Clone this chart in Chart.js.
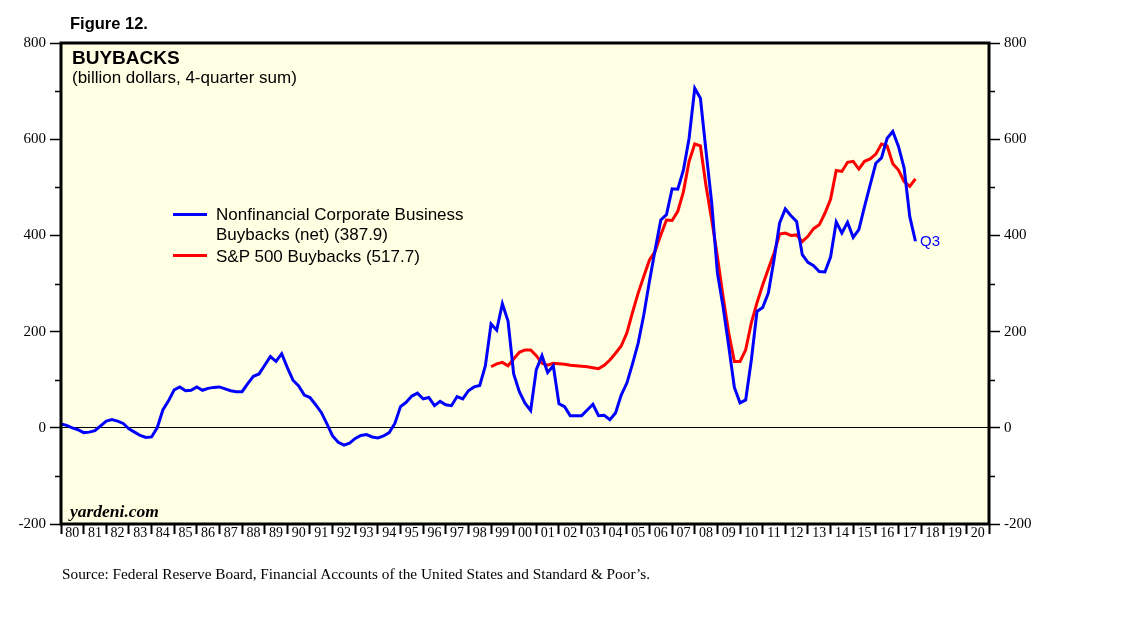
<!DOCTYPE html>
<html>
<head>
<meta charset="utf-8">
<script src="https://cdn.jsdelivr.net/npm/chart.js@4.4.1/dist/chart.umd.min.js"></script>
<style>
  html, body { margin: 0; padding: 0; background: #ffffff; }
  #wrap { position: relative; width: 1138px; height: 621px; overflow: hidden; }
  #c { position: absolute; left: 0; top: 0; }
  .t { position: absolute; white-space: nowrap; line-height: 1; color: #000; }
  .sans { font-family: "Liberation Sans", Arial, sans-serif; }
  .serif { font-family: "Liberation Serif", "Times New Roman", serif; }
  .lg { position: absolute; height: 3px; width: 34px; }
</style>
</head>
<body>
<div id="wrap">
  <canvas id="c" width="1138" height="621"></canvas>
  <div class="t sans" style="left:70px; top:15px; font-size:16.5px; font-weight:bold;">Figure 12.</div>
  <div class="t sans" style="left:72px; top:48px; font-size:19px; font-weight:bold;">BUYBACKS</div>
  <div class="t sans" style="left:72px; top:69px; font-size:17px;">(billion dollars, 4-quarter sum)</div>

  <div class="lg" style="left:173px; top:213px; background:#0000ff;"></div>
  <div class="t sans" style="left:216px; top:205px; font-size:17px; line-height:20px;">Nonfinancial Corporate Business<br>Buybacks (net) (387.9)</div>
  <div class="lg" style="left:173px; top:254px; background:#ff0000;"></div>
  <div class="t sans" style="left:216px; top:247px; font-size:17px; line-height:20px;">S&amp;P 500 Buybacks (517.7)</div>

  <div class="t sans" style="left:920px; top:233px; font-size:15px; color:#0000ff;">Q3</div>
  <div class="t serif" style="left:70px; top:503px; font-size:17.5px; font-weight:bold; font-style:italic;">yardeni.com</div>
  <div class="t serif" style="left:62px; top:566px; font-size:15.3px;">Source: Federal Reserve Board, Financial Accounts of the United States and Standard &amp; Poor’s.</div>
</div>
<script>
// Quarterly data, end-of-quarter dates starting 1979Q4 (plotted at 1980.0)
const startYear = 1980;
const nonfinBuybacks = [
  8, 5, 0, -4, -10, -9, -6, 4, 14, 17, 14, 9, -2, -9, -16, -20,
  -19, 0, 37, 56, 79, 85, 77, 78, 85, 78, 82, 84, 85, 81, 77, 75,
  75, 92, 107, 112, 130, 148, 138, 154, 125, 99, 87, 68, 63, 48, 32, 8,
  -17, -30, -36, -32, -22, -16, -14, -19, -21, -17, -10, 9, 44, 53, 66, 72,
  60, 63, 46, 55, 48, 46, 65, 60, 77, 85, 88, 129, 216, 203, 258, 222,
  112, 75, 51, 36, 121, 150, 115, 129, 50, 44, 25, 25, 25, 37, 49, 25,
  26, 17, 31, 68, 93, 133, 176, 235, 305, 370, 432, 443, 497, 496, 536, 602,
  706, 685, 574, 467, 322, 252, 170, 84, 52, 58, 141, 242, 250, 280, 349, 426,
  455, 441, 429, 360, 344, 337, 325, 324, 355, 428, 405, 427, 396, 412, 460, 505,
  550, 561, 602, 616, 585, 540, 439, 387.9
];
// S&P 500 starts at 1998Q4 (plotted at 1999.0)
const spStartIndex = 76;
const sp500Buybacks = [
  127, 133, 136, 129, 143, 157, 162, 162, 150, 134, 130, 134, 133, 132, 130, 129,
  128, 127, 125, 123, 130, 141, 155, 170, 197, 240, 280, 315, 349, 367, 401, 432,
  431, 450, 491, 554, 590, 586, 502, 432, 356, 273, 197, 138, 138, 162, 218, 260,
  297, 330, 363, 403, 405, 400, 401, 387, 398, 414, 422, 446, 475, 535, 533, 552,
  554, 538, 554, 559, 569, 590, 586, 549, 536, 512, 502, 517.7
];
const yearLabels = [];
for (let y = 1980; y <= 2020; y++) yearLabels.push(String(y % 100).padStart(2, '0'));
const yTickValues = [-200, 0, 200, 400, 600, 800];
const yMinorValues = [-100, 100, 300, 500, 700];

const blueData = nonfinBuybacks.map((v, i) => ({ x: startYear + i / 4, y: v }));
const redData = sp500Buybacks.map((v, i) => ({ x: startYear + (spStartIndex + i) / 4, y: v }));

const bgPlugin = {
  id: 'bgFrame',
  beforeDraw(chart) {
    const { ctx, chartArea: a } = chart;
    ctx.save();
    ctx.fillStyle = '#ffffe4';
    ctx.fillRect(a.left, a.top, a.right - a.left, a.bottom - a.top);
    ctx.restore();
  },
  afterDraw(chart) {
    const { ctx, chartArea: a } = chart;
    ctx.save();
    ctx.strokeStyle = '#000';
    ctx.lineWidth = 3;
    ctx.strokeRect(a.left, a.top, a.right - a.left, a.bottom - a.top);
    // minor ticks on both y axes
    ctx.lineWidth = 1.5;
    const ys = chart.scales.y;
    yMinorValues.forEach(v => {
      const py = Math.round(ys.getPixelForValue(v)) + 0.5;
      ctx.beginPath();
      ctx.moveTo(a.left - 6, py); ctx.lineTo(a.left, py);
      ctx.moveTo(a.right, py); ctx.lineTo(a.right + 6, py);
      ctx.stroke();
    });
    ctx.restore();
  }
};

const yAxisCommon = (pos, w) => ({
  type: 'linear',
  position: pos,
  min: -200, max: 800,
  afterBuildTicks: ax => { ax.ticks = yTickValues.map(v => ({ value: v })); },
  afterFit: ax => { ax.width = w; },
  border: { display: false },
  grid: {
    drawOnChartArea: pos === 'left',
    color: ctx => (ctx.tick && ctx.tick.value === 0) ? '#000' : 'rgba(0,0,0,0)',
    lineWidth: 1,
    drawTicks: true,
    tickLength: 11,
    tickColor: '#000',
    tickWidth: 1.5
  },
  ticks: {
    color: '#000',
    padding: 4,
    font: { family: '"Liberation Serif", "Times New Roman", serif', size: 15 },
    callback: v => String(v)
  }
});

new Chart(document.getElementById('c'), {
  type: 'line',
  data: {
    datasets: [
      { label: 'Nonfinancial Corporate Business Buybacks (net) (387.9)', data: blueData,
        borderColor: '#0000ff', borderWidth: 3, pointRadius: 0, tension: 0, fill: false, yAxisID: 'y' },
      { label: 'S&P 500 Buybacks (517.7)', data: redData,
        borderColor: '#ff0000', borderWidth: 3, pointRadius: 0, tension: 0, fill: false, yAxisID: 'y' }
    ]
  },
  options: {
    responsive: false,
    animation: false,
    devicePixelRatio: 1,
    layout: { padding: { top: 43, left: 0, right: 0, bottom: 0 } },
    plugins: { legend: { display: false }, tooltip: { enabled: false } },
    scales: {
      x: {
        type: 'linear',
        min: 1980, max: 2021,
        afterBuildTicks: ax => {
          const t = [];
          for (let y = 1980; y <= 2021; y++) {
            t.push({ value: y });
            if (y < 2021) t.push({ value: y + 0.5 });
          }
          ax.ticks = t;
        },
        afterFit: ax => { ax.height = 97; },
        border: { display: false },
        grid: {
          drawOnChartArea: false,
          drawTicks: true,
          tickLength: 10,
          tickWidth: 2,
          tickColor: ctx => (ctx.tick && Number.isInteger(ctx.tick.value)) ? '#000' : 'rgba(0,0,0,0)'
        },
        ticks: {
          autoSkip: false,
          maxRotation: 0,
          minRotation: 0,
          padding: -9,
          color: '#000',
          font: { family: '"Liberation Serif", "Times New Roman", serif', size: 14 },
          callback: v => Number.isInteger(v) ? '' : yearLabels[Math.floor(v) - 1980]
        }
      },
      y: yAxisCommon('left', 61),
      y2: yAxisCommon('right', 149)
    }
  },
  plugins: [bgPlugin]
});
</script>
</body>
</html>
